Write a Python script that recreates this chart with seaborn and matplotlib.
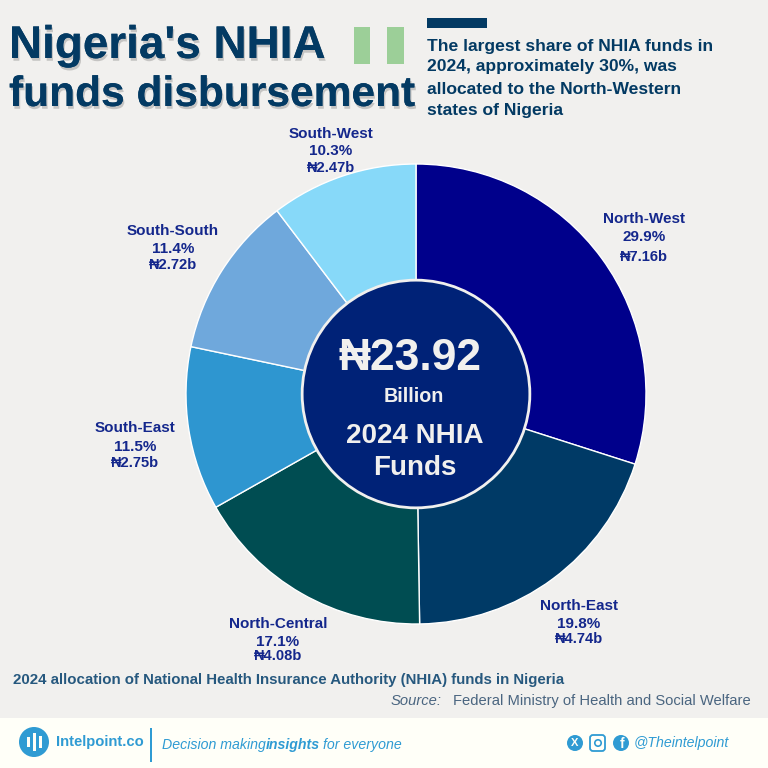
import matplotlib
matplotlib.use("Agg")
import matplotlib.pyplot as plt
import matplotlib.patheffects as pe
from matplotlib.patches import Circle, Rectangle, FancyBboxPatch
import seaborn as sns

regions = ["North-West", "North-East", "North-Central", "South-East", "South-South", "South-West"]
funds_b = [7.16, 4.74, 4.08, 2.75, 2.72, 2.47]
shares = ["29.9%", "19.8%", "17.1%", "11.5%", "11.4%", "10.3%"]
funds_lbl = ["₦7.16b", "₦4.74b", "₦4.08b", "₦2.75b", "₦2.72b", "₦2.47b"]
colors = ["#00008B", "#003A66", "#004D52", "#2E96D0", "#6FA8DC", "#87D9F9"]

# x-centre, y of name, y of share, y of amount (pixels from top)
label_pos = [(644, 219, 237, 257), (579, 606, 624, 639), (278, 624, 642, 656),
             (135, 428, 447, 463), (173, 231, 249, 265), (331, 134, 151, 168)]

BG = "#F1F0EE"
NAVY = "#033A63"
LBL = "#14278C"
BLUE = "#2F9BD3"
sns.set_theme(style="white")
plt.rcParams["font.family"] = ["Liberation Sans", "DejaVu Sans"]

fig = plt.figure(figsize=(7.68, 7.68), dpi=100, facecolor=BG)

ov = fig.add_axes([0, 0, 1, 1], zorder=0)
ov.set_xlim(0, 768); ov.set_ylim(768, 0); ov.axis("off")

ax = fig.add_axes([(416 - 230) / 768, (768 - 624) / 768, 460 / 768, 460 / 768], zorder=1)
ax.pie(funds_b, colors=colors, startangle=90, counterclock=False, radius=1)
ax.add_patch(Circle((0, 0), 0.495, fc="#002277", ec="#F1F0EE", lw=2, zorder=5))
ax.set_xlim(-1, 1); ax.set_ylim(-1, 1); ax.set_aspect("equal"); ax.axis("off")

top = fig.add_axes([0, 0, 1, 1], zorder=2)
top.set_xlim(0, 768); top.set_ylim(768, 0); top.axis("off"); top.patch.set_alpha(0)

def T(x, y, s, size, color=NAVY, ha="center", weight="bold", style="normal", **k):
    return top.text(x, y, s, fontsize=size, color=color, ha=ha, va="center",
                    fontweight=weight, fontstyle=style, **k)

# Title
shadow = [pe.withSimplePatchShadow(offset=(1, -2), shadow_rgbFace="#000000", alpha=0.18), pe.Normal()]
T(9, 46, "Nigeria's NHIA", 33, ha="left", path_effects=shadow)
T(9, 95, "funds disbursement", 30.6, ha="left", path_effects=shadow)

# Flag and accent bar
top.add_patch(Rectangle((354, 27), 16, 37, fc="#9CCF98", ec="none"))
top.add_patch(Rectangle((387, 27), 17, 37, fc="#9CCF98", ec="none"))
top.add_patch(Rectangle((427, 18), 60, 10, fc=NAVY, ec="none"))

# Subtitle
for y, s in zip([46, 67, 89, 110], ["The largest share of NHIA funds in",
                                     "2024, approximately 30%, was",
                                     "allocated to the North-Western",
                                     "states of Nigeria"]):
    T(427, y, s, 12.6, ha="left")

# Slice labels
for (x, y1, y2, y3), r, s, f in zip(label_pos, regions, shares, funds_lbl):
    T(x, y1, r, 11, LBL)
    T(x, y2, s, 11, LBL)
    T(x, y3, f, 10.6, LBL)

# Centre text
C = "#F1F0EE"
T(410, 358, "₦23.92", 32, C)
T(414, 397, "Billion", 14.2, C)
T(415, 436, "2024 NHIA", 20, C)
T(415, 468, "Funds", 20, C)

# Captions
T(13, 680, "2024 allocation of National Health Insurance Authority (NHIA) funds in Nigeria",
  10.8, "#26587E", ha="left")
t = T(751, 701, "Federal Ministry of Health and Social Welfare", 10.6, "#4A6580", ha="right", weight="normal")
T(442, 701, "Source:", 10.6, "#4A6580", ha="right", weight="normal", style="italic")

# Footer
ov.add_patch(Rectangle((0, 718), 768, 50, fc="#FFFFF8", ec="none"))
top.add_patch(Circle((34, 742), 15, fc=BLUE, ec="none"))
for x, h in zip([28, 34, 40], [10, 18, 12]):
    top.add_patch(Rectangle((x - 1.5, 742 - h / 2), 3, h, fc="#FFFFF8", ec="none"))
T(56, 742, "Intelpoint.co", 10.6, BLUE, ha="left")
top.add_patch(Rectangle((150, 728), 2, 34, fc=BLUE, ec="none"))
T(162, 745, "Decision making ", 10.2, BLUE, ha="left", weight="normal", style="italic")
T(266, 745, "insights", 10.2, BLUE, ha="left", style="italic")
T(323, 745, "for everyone", 10.2, BLUE, ha="left", weight="normal", style="italic")
top.add_patch(Circle((575, 743), 8, fc=BLUE, ec="none"))
T(575, 743, "X", 8, "#FFFFF8")
top.add_patch(FancyBboxPatch((592, 737), 11, 12, boxstyle="round,pad=2,rounding_size=3", fc="none", ec=BLUE, lw=1.3))
top.add_patch(Circle((598, 743), 3.2, fc="none", ec=BLUE, lw=1.2))
top.add_patch(Circle((621, 743), 8, fc=BLUE, ec="none"))
T(622, 744, "f", 10, "#FFFFF8")
T(634, 743, "@Theintelpoint", 10.2, BLUE, ha="left", weight="normal", style="italic")

fig.savefig("out.png", dpi=100, facecolor=BG)
